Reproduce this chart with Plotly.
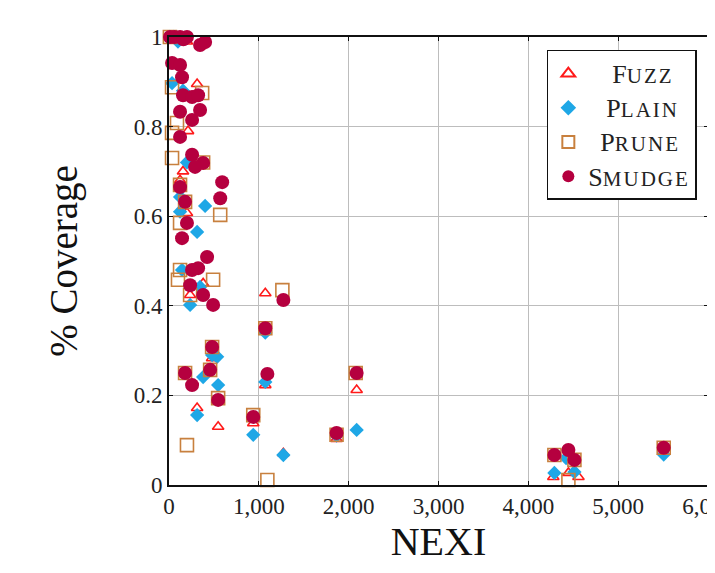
import plotly.graph_objects as go

# ---- data ----
fuzz_x = [30, 110, 200, 350, 313, 212, 156, 200, 1072, 235, 380, 313, 547, 938, 1273, 1072, 480, 536,
          2089, 1865, 4278, 4446, 4558, 123, 145]
fuzz_y = [1.0, 1.0, 0.99, 0.98, 0.895, 0.79, 0.70, 0.607, 0.428, 0.424, 0.45, 0.172, 0.13, 0.138, 0.071,
          0.223, 0.283, 0.19, 0.212, 0.103, 0.018, 0.027, 0.018, 0.68, 0.55]

plain_x = [10, 50, 100, 34, 156, 200, 123, 402, 123, 313, 145, 346, 235, 536, 480, 380, 547, 313, 938,
           1072, 1273, 2089, 1865, 4290, 4513, 4420, 5507, 1072]
plain_y = [1.0, 1.0, 0.99, 0.897, 0.88, 0.72, 0.643, 0.623, 0.61, 0.565, 0.48, 0.442, 0.402, 0.286, 0.29,
           0.241, 0.223, 0.156, 0.112, 0.23, 0.067, 0.123, 0.11, 0.027, 0.029, 0.06, 0.068, 0.34]

prune_x = [10, 34, 369, 89, 34, 34, 380, 570, 123, 123, 100, 491, 1262, 235, 123, 179, 200, 1095, 480,
           179, 458, 547, 938, 2078, 1865, 1072, 4446, 4290, 4513, 5507]
prune_y = [1.0, 0.888, 0.875, 0.808, 0.786, 0.73, 0.72, 0.603, 0.585, 0.48, 0.458, 0.458, 0.435, 0.424,
           0.67, 0.632, 0.089, 0.011, 0.308, 0.25, 0.257, 0.194, 0.156, 0.25, 0.112, 0.35, 0.011, 0.067,
           0.056, 0.083]

smudge_x = [11, 60, 123, 160, 200, 402, 346, 34, 123, 145, 156, 257, 324, 123, 257, 346, 123, 257, 380,
            290, 123, 592, 570, 179, 200, 145, 424, 324, 257, 235, 380, 491, 1273, 1072, 480, 179, 257,
            458, 547, 938, 1095, 1865, 2089, 4290, 4446, 4513, 5507]
smudge_y = [1.0, 1.0, 1.0, 0.995, 1.0, 0.989, 0.982, 0.942, 0.9375, 0.91, 0.87, 0.866, 0.87, 0.833,
            0.815, 0.837, 0.777, 0.737, 0.719, 0.71, 0.665, 0.676, 0.64, 0.632, 0.585, 0.551, 0.509,
            0.484, 0.48, 0.446, 0.424, 0.402, 0.413, 0.35, 0.308, 0.25, 0.223, 0.257, 0.19, 0.152, 0.248,
            0.116, 0.25, 0.067, 0.078, 0.056, 0.083]

x_ticks = [0, 1000, 2000, 3000, 4000, 5000, 6000]
x_tick_labels = ["0", "1,000", "2,000", "3,000", "4,000", "5,000", "6,000"]
y_ticks = [0, 0.2, 0.4, 0.6, 0.8, 1.0]
y_tick_labels = ["0", "0.2", "0.4", "0.6", "0.8", "1"]

FONT = "Liberation Serif, Times New Roman, serif"
BIG = "font-size:26px"
SC = "font-size:21px;letter-spacing:2px"
NB = "\u00a0"


def sc_name(first, rest, pad):
    return NB * pad + f"<span style='{BIG}'>{first}</span><span style='{SC}'>{rest}</span>"


fig = go.Figure()
fig.add_trace(go.Scatter(
    x=fuzz_x, y=fuzz_y, mode="markers", cliponaxis=False,
    name=sc_name("F", "UZZ", 4),
    marker=dict(symbol="triangle-up-open", size=10, color="#ff1a1a", line=dict(width=1.6, color="#ff1a1a"))))
fig.add_trace(go.Scatter(
    x=plain_x, y=plain_y, mode="markers", cliponaxis=False,
    name=sc_name("P", "LAIN", 3),
    marker=dict(symbol="diamond", size=11, color="#1ea7e6", line=dict(width=0))))
fig.add_trace(go.Scatter(
    x=prune_x, y=prune_y, mode="markers", cliponaxis=False,
    name=sc_name("P", "RUNE", 2),
    marker=dict(symbol="square-open", size=13, color="#c8803e", line=dict(width=1.6, color="#c8803e"))))
fig.add_trace(go.Scatter(
    x=smudge_x, y=smudge_y, mode="markers", cliponaxis=False,
    name=sc_name("S", "MUDGE", 0),
    marker=dict(symbol="circle", size=14, color="#b5003f", line=dict(width=0))))

axis_common = dict(
    showgrid=True, gridcolor="#bdbdbd", gridwidth=1,
    showline=True, linecolor="#111111", linewidth=1.6, mirror="ticks",
    ticks="inside", ticklen=4, tickcolor="#111111", zeroline=False,
    tickfont=dict(family=FONT, size=23, color="#222222"),
    automargin=False, ticklabeloverflow="allow",
)

fig.update_xaxes(range=[0, 6000], tickvals=x_ticks, ticktext=x_tick_labels,
                 title=dict(text="NEXI", font=dict(family=FONT, size=40, color="#111111"), standoff=8),
                 **axis_common)
fig.update_yaxes(range=[0, 1], tickvals=y_ticks, ticktext=y_tick_labels,
                 title=dict(text="% Coverage", font=dict(family=FONT, size=39, color="#111111"), standoff=44),
                 **axis_common)

fig.update_layout(
    width=715, height=573,
    margin=dict(l=161, r=15, t=29, b=96),
    paper_bgcolor="white", plot_bgcolor="white",
    font=dict(family=FONT, color="#111111"),
    legend=dict(x=0.701, y=0.971, xanchor="left", yanchor="top",
                bgcolor="white", bordercolor="#111111", borderwidth=1.5,
                font=dict(family=FONT, size=24, color="#222222"),
                itemsizing="constant", tracegroupgap=0),
    showlegend=True,
)

fig.write_html("out.html")
